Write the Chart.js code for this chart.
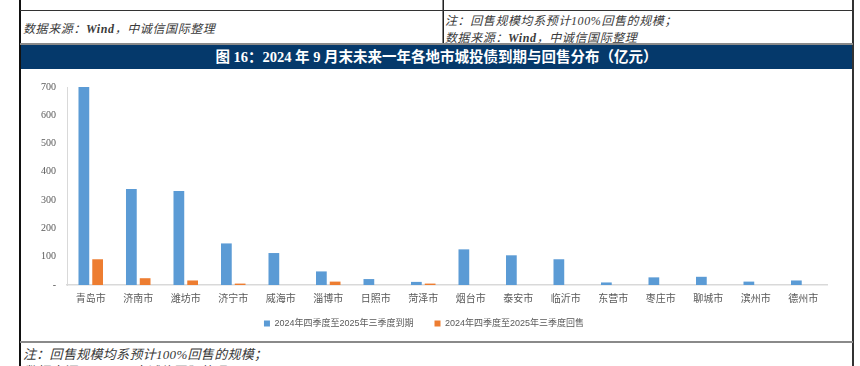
<!DOCTYPE html>
<html><head><meta charset="utf-8">
<script src="https://cdn.jsdelivr.net/npm/chart.js@4/dist/chart.umd.min.js"></script>
<style>
html,body{margin:0;padding:0;background:#fff;width:860px;height:366px;overflow:hidden;position:relative;}
.ln{position:absolute;}
.t{position:absolute;white-space:nowrap;font-family:"Liberation Serif","Noto Sans CJK SC",serif;font-style:italic;color:#3a3a3a;font-size:12px;letter-spacing:0.6px;}
#title{position:absolute;left:21px;top:45px;width:831px;height:24px;background:#05396b;color:#fff;font-family:"Liberation Serif","Noto Sans CJK SC",serif;font-weight:bold;font-size:14.5px;line-height:24px;text-align:center;white-space:nowrap;}
canvas{position:absolute;left:21px;top:70px;}
</style></head><body>
<!-- frame lines -->
<div class="ln" style="left:19px;top:0;width:2px;height:366px;background:#111"></div>
<div class="ln" style="left:852px;top:0;width:2px;height:366px;background:#333"></div>
<div class="ln" style="left:442px;top:0;width:1px;height:44px;background:#888"></div>
<div class="ln" style="left:443px;top:0;width:1px;height:44px;background:#222"></div>
<div class="ln" style="left:20px;top:10px;width:833px;height:1px;background:#333"></div>
<div class="ln" style="left:20px;top:43px;width:833px;height:2px;background:#8a8a8a"></div>
<div class="ln" style="left:20px;top:341px;width:833px;height:2px;background:#8a8a8a"></div>

<div class="t" style="left:23px;top:19px;">数据来源：<b>Wind</b>，中诚信国际整理</div>
<div class="t" style="left:445px;top:11px;">注：回售规模均系预计100%回售的规模；</div>
<div class="t" style="left:445px;top:28px;">数据来源：<b>Wind</b>，中诚信国际整理</div>
<div id="title">图 16：2024 年 9 月末未来一年各地市城投债到期与回售分布（亿元）</div>
<div class="t" style="left:23px;top:344px;font-size:13px;letter-spacing:0.3px;">注：回售规模均系预计100%回售的规模；</div>
<div class="t" style="left:23px;top:361px;font-size:13px;letter-spacing:0.3px;">数据来源：<b>Wind</b>，中诚信国际整理</div>

<canvas id="c" width="831" height="272"></canvas>
<script>
const categories = ["青岛市","济南市","潍坊市","济宁市","威海市","淄博市","日照市","菏泽市","烟台市","泰安市","临沂市","东营市","枣庄市","聊城市","滨州市","德州市"];
const seriesNames = ["2024年四季度至2025年三季度到期","2024年四季度至2025年三季度回售"];
const maturity = [700,339,332,147,113,48,21,11,126,105,91,9,27,29,12,16];
const putback = [91,24,16,5,0,12,0,5,0,0,0,0,0,0,0,0];
const yTicks = [0,100,200,300,400,500,600,700];

new Chart(document.getElementById('c'), {
  type: 'bar',
  data: {
    labels: categories,
    datasets: [
      {label: seriesNames[0], data: maturity, backgroundColor: '#5b9bd5', categoryPercentage: 0.58, barPercentage: 0.78},
      {label: seriesNames[1], data: putback, backgroundColor: '#ed7d31', categoryPercentage: 0.58, barPercentage: 0.78}
    ]
  },
  options: {
    responsive: false,
    animation: false,
    devicePixelRatio: 1,
    layout: {padding: {left: 0, right: 25, top: 17, bottom: 4}},
    plugins: {
      tooltip: {enabled: false},
      legend: {
        position: 'bottom',
        labels: {
          boxWidth: 6, boxHeight: 6, padding: 12,
          color: '#595959',
          font: {family: '"Liberation Sans","Noto Sans CJK SC",sans-serif', size: 9},
          generateLabels: chart => {
            const items = Chart.defaults.plugins.legend.labels.generateLabels(chart);
            items.forEach((it, i) => { if (i === 0) it.text = it.text + '\u3000'; });
            return items;
          }
        }
      }
    },
    scales: {
      y: {
        min: 0, max: 700,
        afterFit: s => { s.width = 46; },
        afterBuildTicks: s => { s.ticks = yTicks.map(v => ({value: v})); },
        grid: {display: false, drawTicks: false},
        border: {display: true, color: '#d9d9d9', width: 1},
        ticks: {
          padding: 11,
          color: '#595959',
          font: {family: '"Liberation Serif",serif', size: 10},
          callback: v => v === 0 ? '-' : String(v)
        }
      },
      x: {
        afterFit: s => { s.height = 22; },
        grid: {display: false, drawTicks: false},
        border: {display: true, color: '#d9d9d9', width: 1.5},
        ticks: {
          padding: 8,
          maxRotation: 0, autoSkip: false,
          color: '#595959',
          font: {family: '"Liberation Serif","Noto Sans CJK SC",serif', size: 10}
        }
      }
    }
  }
});
</script>
</body></html>
